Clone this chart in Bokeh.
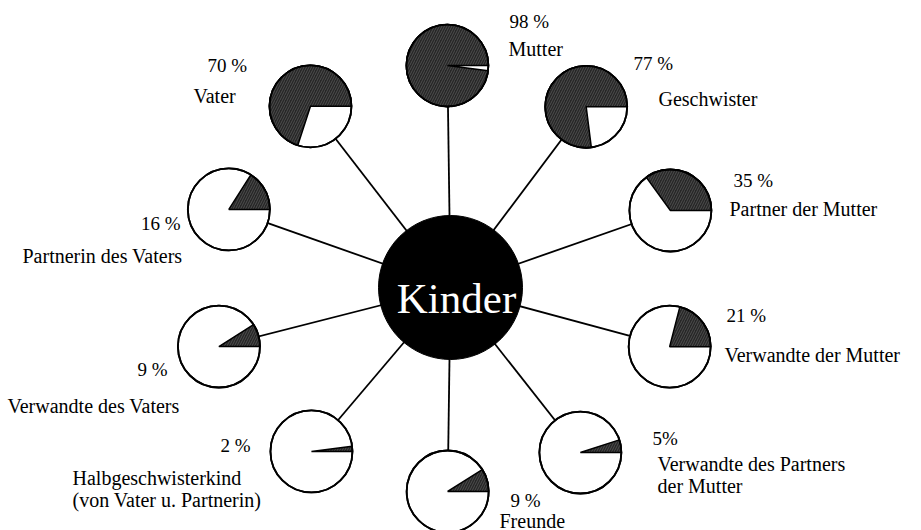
import math
from bokeh.plotting import figure
from bokeh.models import Range1d, ColumnDataSource
from bokeh.core.properties import value
from bokeh.embed import file_html
from bokeh.resources import INLINE

# ---------------- data ----------------
categories = ["Mutter", "Geschwister", "Partner der Mutter", "Verwandte der Mutter",
              "Verwandte des Partners\n der Mutter", "Freunde",
              "Halbgeschwisterkind\n(von Vater u. Partnerin)", "Verwandte des Vaters",
              "Partnerin des Vaters", "Vater"]
percent = [98, 77, 35, 21, 5, 9, 2, 9, 16, 70]
percent_labels = ["98 %", "77 %", "35 %", "21 %", "5%", "9 %", "2 %", "9 %", "16 %", "70 %"]
center_label = "Kinder"

# ---------------- layout (screen px, y down) ----------------
W, H = 921, 530
hub_x, hub_y, hub_r = 450, 287, 72
pie_angle_deg = [90.8, 53.1, 19.3, -15.1, -51.8, -90.8, -130.3, -165.7, 160.6, 127.7]
pie_dist = [222, 226, 233, 227, 210, 204, 215, 239, 235, 229]
pie_r = 41
# (x, baseline y) of percent label and of name label, plus alignment
pct_pos = [(509, 21), (633, 63), (733, 180), (726, 315), (652, 438), (510, 500),
           (250, 445), (167, 369), (180, 223), (207, 65)]
pct_align = ["left", "left", "left", "left", "left", "left", "right", "right", "right", "left"]
name_pos = [(508, 48), (658, 98), (729, 208), (724, 354), (657, 463), (499, 520),
            (72, 477), (7, 405), (22, 255), (193, 95)]
line_h = 22

def Y(y):
    return H - y

p = figure(width=W, height=H, output_backend="svg", toolbar_location=None,
           x_range=Range1d(0, W), y_range=Range1d(0, H),
           min_border=0, outline_line_color=None)
p.axis.visible = False
p.grid.visible = False
p.background_fill_color = "white"
p.border_fill_color = "white"

px = [hub_x + d * math.cos(math.radians(a)) for a, d in zip(pie_angle_deg, pie_dist)]
py = [Y(hub_y) + d * math.sin(math.radians(a)) for a, d in zip(pie_angle_deg, pie_dist)]

# spokes
p.segment(x0=[hub_x] * len(px), y0=[Y(hub_y)] * len(px), x1=px, y1=py,
          line_color="black", line_width=1.8)

# hub
p.circle(x=[hub_x], y=[Y(hub_y)], radius=hub_r, fill_color="black", line_color="black")
p.text(x=[456], y=[Y(298)], text=[center_label], text_color="white",
       text_font=value("Liberation Serif"), text_font_size="43px",
       text_align="center", text_baseline="alphabetic")

# pies
src = ColumnDataSource(dict(x=px, y=py, end=[2 * math.pi * v / 100 for v in percent]))
p.circle(x="x", y="y", radius=pie_r, fill_color="white", line_color="black",
         line_width=1.8, source=src)
p.wedge(x="x", y="y", radius=pie_r, start_angle=0, end_angle="end", source=src,
        fill_color="#262626", line_color="black", line_width=1.5,
        hatch_pattern="/", hatch_color="white", hatch_alpha=0.3,
        hatch_scale=5, hatch_weight=0.6)
p.circle(x="x", y="y", radius=pie_r, fill_color=None, line_color="black",
         line_width=1.8, source=src)

# labels
for i in range(len(categories)):
    x, y = pct_pos[i]
    p.text(x=[x], y=[Y(y)], text=[percent_labels[i]], text_color="black",
           text_font=value("Liberation Serif"), text_font_size="19px",
           text_align=pct_align[i], text_baseline="alphabetic")
    nx, ny = name_pos[i]
    for k, ln in enumerate(categories[i].split("\n")):
        p.text(x=[nx], y=[Y(ny + k * line_h)], text=[ln], text_color="black",
               text_font=value("Liberation Serif"), text_font_size="20px",
               text_align="left", text_baseline="alphabetic")

open("out.html", "w").write(file_html(p, INLINE))
